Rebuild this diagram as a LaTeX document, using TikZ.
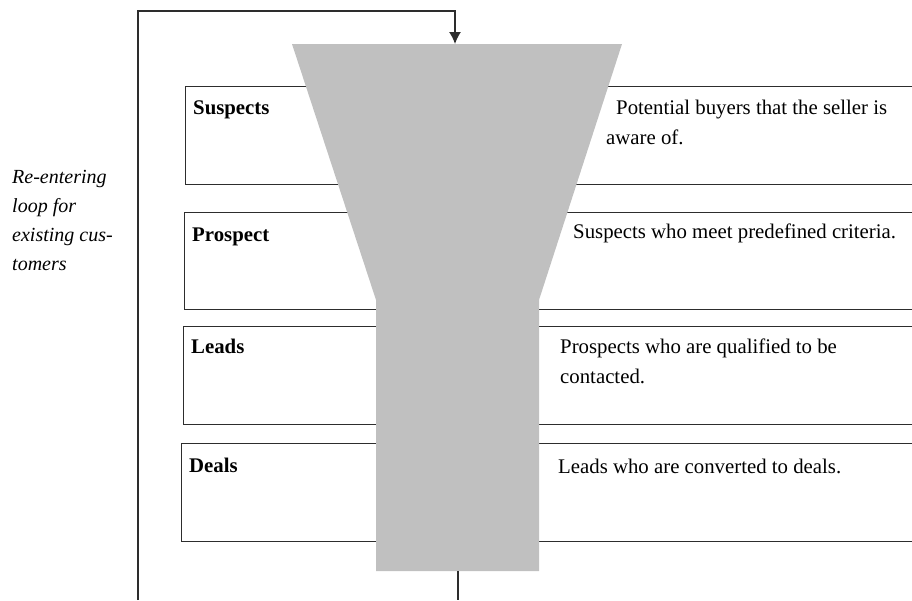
\documentclass[tikz,border=0pt]{standalone}
\usepackage{fontspec}
\setmainfont{Liberation Serif}
\usetikzlibrary{arrows.meta,positioning}
\definecolor{funnelgray}{RGB}{192,192,192}
\definecolor{edgegray}{RGB}{45,45,45}
\newcommand{\stagefont}{\fontsize{20.8}{30}\selectfont}
\tikzset{
  stagebox/.style={draw=edgegray, line width=1.4pt, anchor=north west,
    minimum width=760pt, minimum height=98pt, inner sep=0pt},
  stagename/.style={anchor=base west, inner sep=0pt, font=\stagefont\bfseries},
  stagetext/.style={anchor=north west, inner sep=0pt, align=left, font=\stagefont},
  loopline/.style={draw=edgegray, line width=1.4pt}
}

\begin{document}
\begin{tikzpicture}[x=1pt,y=-1pt]
\clip (0,0) rectangle (912,600);

% stages
\node[stagebox] (sus) at (185,86) {};
\node[stagebox, minimum height=97pt] (pro) at (184,212) {};
\node[stagebox] (lea) at (183,326) {};
\node[stagebox] (dea) at (181,443) {};

\node[stagename] (susname) at ([shift={(8,28)}]sus.north west) {Suspects};
\node[stagename] (proname) at ([shift={(8,29)}]pro.north west) {Prospect};
\node[stagename] (leaname) at ([shift={(8,27)}]lea.north west) {Leads};
\node[stagename] (deaname) at ([shift={(8,29)}]dea.north west) {Deals};

% the funnel
\fill[funnelgray] (292,44) -- (622,44) -- (539,300) -- (539,571)
  -- (376,571) -- (376,300) -- cycle;
\coordinate (funneltop) at (455,44);
\coordinate (funnelbot) at (458,571);

% descriptions
\node[stagetext] (sustext) at (606,100)
  {\hspace*{10pt}Potential buyers that the seller is\\aware of.};
\node[stagetext] (protext) at (573,224) {Suspects who meet predefined criteria.};
\node[stagetext] (leatext) at (560,339) {Prospects who are qualified to be\\contacted.};
\node[stagetext] (deatext) at (558,459) {Leads who are converted to deals.};

% re-entering loop
\coordinate (loopbottom) at (138,600);
\coordinate (loopcorner) at (455,11);
\draw[loopline, -{Latex[length=12pt,width=12pt]}]
  (loopbottom) |- (loopcorner) -- (funneltop);
\draw[loopline] (funnelbot) -- (funnelbot |- loopbottom);

\node[stagetext, font=\fontsize{20}{29}\selectfont\itshape] (looptext) at (12,170)
  {Re-entering\\loop for\\existing cus-\\tomers};
\end{tikzpicture}
\end{document}
